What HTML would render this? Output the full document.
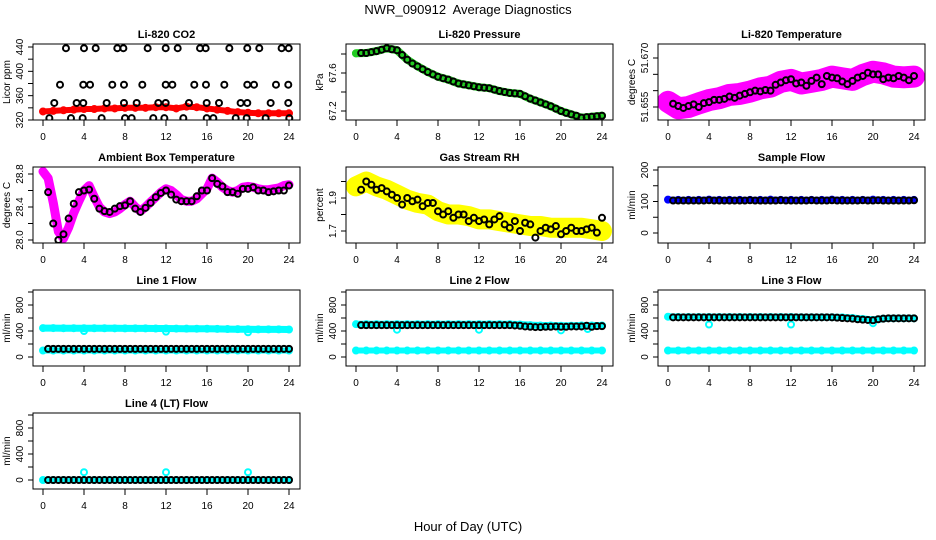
<!DOCTYPE html>
<html><head><meta charset="utf-8">
<style>
html,body{margin:0;padding:0;background:#fff;}
svg{display:block;font-family:"Liberation Sans",Arial,sans-serif;}
</style></head>
<body>
<svg id="chart" width="936" height="540" viewBox="0 0 936 540" xmlns="http://www.w3.org/2000/svg">
<rect width="936" height="540" fill="#fff"/>
<text x="468" y="14" text-anchor="middle" font-size="13">NWR_090912&#160; Average Diagnostics</text>
<text x="468" y="531" text-anchor="middle" font-size="13">Hour of Day (UTC)</text>
</svg>
<script>
// ---- shared time arrays ----
const hourT = [0,1,2,3,4,5,6,7,8,9,10,11,12,13,14,15,16,17,18,19,20,21,22,23,24];
const halfT = [0.5,1,1.5,2,2.5,3,3.5,4,4.5,5,5.5,6,6.5,7,7.5,8,8.5,9,9.5,10,10.5,11,11.5,12,12.5,13,13.5,14,14.5,15,15.5,16,16.5,17,17.5,18,18.5,19,19.5,20,20.5,21,21.5,22,22.5,23,23.5,24];
const halfT0 = [0,0.5,1,1.5,2,2.5,3,3.5,4,4.5,5,5.5,6,6.5,7,7.5,8,8.5,9,9.5,10,10.5,11,11.5,12,12.5,13,13.5,14,14.5,15,15.5,16,16.5,17,17.5,18,18.5,19,19.5,20,20.5,21,21.5,22,22.5,23,23.5,24];
const xTicks = [0,4,8,12,16,20,24];

// ---- CO2 ----
const co2Color = [334,335,336,337,338,338,339,339,340,340,340,341,341,339,342,341,339,337,335,333,332,331,331,331,331];
const co2BlackT = [2.24,4.0,5.14,7.25,7.84,10.21,11.97,13.14,15.32,15.87,18.18,19.93,21.1,23.28,23.97,
 1.66,3.93,4.59,6.76,7.9,9.69,11.97,12.62,14.76,15.9,17.69,19.93,20.59,22.73,23.93,
 1.1,3.28,3.93,6.21,7.9,9.14,11.25,11.97,14.24,15.97,17.17,19.28,19.93,22.21,23.93,
 0.62,2.73,3.87,5.72,8.0,8.65,10.76,11.84,13.69,15.97,16.62,18.8,19.87,21.72,24.03];
const co2BlackV = [438,438,438,438,438,438,438,438,438,438,438,438,438,438,438,
 378,378,378,378,378,378,378,378,378,378,378,378,378,378,378,
 348,348,348,348,348,348,348,348,348,348,348,348,348,348,348,
 323,323,323,323,323,323,323,323,323,323,323,323,323,323,323];

// ---- Pressure ----
const presColor = [67.807,67.81,67.83,67.86,67.84,67.74,67.67,67.61,67.56,67.53,67.49,67.47,67.45,67.44,67.41,67.39,67.38,67.33,67.29,67.25,67.20,67.165,67.13,67.14,67.15];
const presBlack = [67.81,67.81,67.82,67.83,67.845,67.86,67.85,67.84,67.79,67.74,67.70,67.67,67.64,67.61,67.585,67.56,67.545,67.53,67.51,67.49,67.48,67.47,67.46,67.45,67.445,67.44,67.425,67.41,67.40,67.39,67.385,67.38,67.355,67.33,67.31,67.29,67.27,67.25,67.225,67.20,67.18,67.165,67.15,67.13,67.135,67.14,67.145,67.15];

// ---- Li-820 Temperature ----
const tempColor = [51.6566,51.6546,51.655,51.6561,51.6571,51.6577,51.6587,51.659,51.6597,51.6607,51.6612,51.6627,51.6633,51.6622,51.6627,51.6633,51.6643,51.6638,51.6633,51.6648,51.6658,51.6653,51.6643,51.6641,51.6643];
const tempBlack = [51.6560,51.6553,51.6547,51.6553,51.6558,51.6550,51.6562,51.6565,51.6572,51.6572,51.6575,51.6582,51.6578,51.6585,51.6590,51.6595,51.6600,51.6598,51.6602,51.6600,51.6618,51.6625,51.6632,51.6635,51.6622,51.6625,51.6615,51.6630,51.6640,51.6620,51.6645,51.6640,51.6638,51.6628,51.6620,51.6630,51.6640,51.6645,51.6655,51.6650,51.6650,51.6635,51.6640,51.6638,51.6645,51.6640,51.6632,51.6645];

// ---- Ambient Box Temperature ----
const ambColor = [28.83,28.75,28.45,28.10,28.02,28.15,28.33,28.47,28.60,28.66,28.52,28.40,28.34,28.32,28.34,28.38,28.43,28.47,28.40,28.35,28.40,28.46,28.52,28.58,28.62,28.60,28.55,28.49,28.47,28.47,28.50,28.56,28.62,28.75,28.70,28.64,28.60,28.58,28.60,28.64,28.65,28.64,28.62,28.61,28.61,28.62,28.63,28.66,28.67];
const ambBlack = [28.58,28.20,28.0,28.07,28.26,28.44,28.58,28.60,28.61,28.50,28.38,28.35,28.34,28.38,28.41,28.42,28.47,28.38,28.34,28.39,28.45,28.52,28.57,28.60,28.55,28.49,28.47,28.47,28.47,28.53,28.60,28.60,28.75,28.68,28.65,28.58,28.58,28.56,28.62,28.62,28.64,28.60,28.60,28.58,28.59,28.60,28.60,28.66];

// ---- Gas Stream RH ----
const rhColor = [1.97,2.0,1.97,1.95,1.92,1.89,1.87,1.86,1.82,1.80,1.80,1.79,1.77,1.77,1.76,1.75,1.74,1.73,1.73,1.72,1.72,1.72,1.72,1.71,1.70];
const rhBlack = [1.95,2.00,1.98,1.95,1.96,1.94,1.92,1.90,1.86,1.90,1.88,1.89,1.85,1.87,1.87,1.82,1.80,1.82,1.78,1.80,1.80,1.76,1.78,1.76,1.77,1.74,1.77,1.79,1.74,1.72,1.76,1.70,1.75,1.74,1.66,1.70,1.72,1.71,1.73,1.68,1.70,1.72,1.70,1.70,1.71,1.72,1.69,1.78];

// ---- Sample Flow ----
const sampleColor = [106,105,105,105,106,105,105,105,105,105,106,105,105,105,105,105,106,105,105,105,106,105,105,105,105];
const sampleBlack = [103,103,103,103,103,103,103,104,103,103,103,103,103,103,103,104,103,103,103,103,103,104,103,103,103,103,103,104,103,103,103,104,103,103,103,103,103,104,103,103,104,103,103,103,103,103,103,104];

// ---- Line flows ----
const line1High = [445,445,443,443,442,442,442,441,440,440,440,438,438,437,436,435,434,432,430,428,426,425,425,425,423];
const line1Low = [100,100,100,100,100,100,100,100,100,100,100,100,100,100,100,100,100,100,100,100,100,100,100,100,100];
const line1OutT = [4,12,20];
const line1OutV = [400,390,380];
const line1Black = [125,125,125,125,125,125,125,125,125,125,125,125,125,125,125,125,125,125,125,125,125,125,125,125,125,125,125,125,125,125,125,125,125,125,125,125,125,125,125,125,125,125,125,125,125,125,125,125];

const line2High = [505,505,505,505,505,505,505,505,505,505,505,505,505,505,505,505,500,490,485,485,480,480,485,485,485];
const line2Low = [100,100,100,100,100,100,100,100,100,100,100,100,100,100,100,100,100,100,100,100,100,100,100,100,100];
const line2OutT = [4,12,20,22.6];
const line2OutV = [420,420,410,430];
const line2Black = [490,490,490,490,490,490,490,490,490,490,490,490,490,490,490,490,490,490,490,490,490,490,490,490,490,490,490,490,490,490,485,480,470,465,460,460,465,465,470,465,465,470,470,470,480,465,475,475];

const line3High = [620,615,615,615,615,615,615,615,615,615,615,615,615,612,612,612,612,610,600,585,570,590,595,595,595];
const line3Low = [100,100,100,100,100,100,100,100,100,100,100,100,100,100,100,100,100,100,100,100,100,100,100,100,100];
const line3OutT = [4,12,20];
const line3OutV = [500,500,520];
const line3Black = [610,610,610,610,610,610,610,610,610,610,610,610,610,610,610,610,610,610,610,610,610,610,610,610,610,610,610,610,610,610,610,610,605,600,595,590,580,575,570,565,580,590,595,595,595,595,595,595];

const line4Color = [0,0,0,0,0,0,0,0,0,0,0,0,0,0,0,0,0,0,0,0,0,0,0,0,0];
const line4OutT = [4,12,20];
const line4OutV = [120,120,120];
const line4Black = [0,0,0,0,0,0,0,0,0,0,0,0,0,0,0,0,0,0,0,0,0,0,0,0,0,0,0,0,0,0,0,0,0,0,0,0,0,0,0,0,0,0,0,0,0,0,0,0];

// ---- layout ----
const NS = "http://www.w3.org/2000/svg";
const svg = document.getElementById('chart');
const colLeft = [33, 346, 658];
const rowTop = [44, 167, 290, 413];
const boxW = 267, boxH = 76;

function mk(tag, attrs, parent) {
  const e = document.createElementNS(NS, tag);
  for (const k in attrs) e.setAttribute(k, attrs[k]);
  (parent || svg).appendChild(e);
  return e;
}

const flowTicks = [0,200,400,600,800,1000];
const flowLabels = [0,400,800];

const panels = [
 {name:'co2', col:0,row:0,title:'Li-820 CO2',ylab:'Licor ppm',cal:[320,76,440,3],ticks:[320,340,360,380,400,420,440],labels:[320,360,400,440],
  series:[{t:hourT,v:co2Color,c:'#ff0000',w:6,r:3}],out:null,black:{t:co2BlackT,v:co2BlackV}},
 {name:'pressure', col:1,row:0,title:'Li-820 Pressure',ylab:'kPa',cal:[67.2,67,67.6,29],ticks:[67.2,67.4,67.6,67.8],labels:[67.2,67.6],
  series:[{t:hourT,v:presColor,c:'#22cc22',w:8,r:3}],out:null,black:{t:halfT,v:presBlack}},
 {name:'temperature', col:2,row:0,title:'Li-820 Temperature',ylab:'degrees C',cal:[51.655,63,51.670,14],ticks:[51.655,51.660,51.665,51.670],labels:['51.655','51.670'],
  series:[{t:hourT,v:tempColor,c:'#ff00ff',w:22,r:3}],out:null,black:{t:halfT,v:tempBlack}},
 {name:'ambient-temp', col:0,row:1,title:'Ambient Box Temperature',ylab:'degrees C',cal:[28.0,73,28.8,7],ticks:[28.0,28.2,28.4,28.6,28.8],labels:['28.0','28.4','28.8'],
  series:[{t:halfT0,v:ambColor,c:'#ff00ff',w:9,r:3}],out:null,black:{t:halfT,v:ambBlack}},
 {name:'rh', col:1,row:1,title:'Gas Stream RH',ylab:'percent',cal:[1.7,64,1.9,31],ticks:[1.7,1.8,1.9,2.0],labels:['1.7','1.9'],
  series:[{t:hourT,v:rhColor,c:'#ffff00',w:20,r:3}],out:null,black:{t:halfT,v:rhBlack}},
 {name:'sample-flow', col:2,row:1,title:'Sample Flow',ylab:'ml/min',cal:[0,66,200,3],ticks:[0,50,100,150,200],labels:[0,100,200],
  series:[{t:hourT,v:sampleColor,c:'#0000ff',w:6,r:3}],out:null,black:{t:halfT,v:sampleBlack}},
 {name:'line1-flow', col:0,row:2,title:'Line 1 Flow',ylab:'ml/min',cal:[0,67,1000,2],ticks:flowTicks,labels:flowLabels,
  series:[{t:hourT,v:line1High,c:'#00ffff',w:7,r:3},{t:hourT,v:line1Low,c:'#00ffff',w:6,r:3}],out:{t:line1OutT,v:line1OutV},black:{t:halfT,v:line1Black}},
 {name:'line2-flow', col:1,row:2,title:'Line 2 Flow',ylab:'ml/min',cal:[0,67,1000,2],ticks:flowTicks,labels:flowLabels,
  series:[{t:hourT,v:line2High,c:'#00ffff',w:7,r:3},{t:hourT,v:line2Low,c:'#00ffff',w:6,r:3}],out:{t:line2OutT,v:line2OutV},black:{t:halfT,v:line2Black}},
 {name:'line3-flow', col:2,row:2,title:'Line 3 Flow',ylab:'ml/min',cal:[0,67,1000,2],ticks:flowTicks,labels:flowLabels,
  series:[{t:hourT,v:line3High,c:'#00ffff',w:7,r:3},{t:hourT,v:line3Low,c:'#00ffff',w:6,r:3}],out:{t:line3OutT,v:line3OutV},black:{t:halfT,v:line3Black}},
 {name:'line4-flow', col:0,row:3,title:'Line 4 (LT) Flow',ylab:'ml/min',cal:[0,67,1000,2],ticks:flowTicks,labels:flowLabels,
  series:[{t:hourT,v:line4Color,c:'#00ffff',w:5,r:3}],out:{t:line4OutT,v:line4OutV},black:{t:halfT,v:line4Black}}
];

panels.forEach(p => {
  const L = colLeft[p.col], T = rowTop[p.row], B = T + boxH, R = L + boxW;
  const xs = h => L + 10 + h * (246 / 24);
  const [v0, o0, v1, o1] = p.cal;
  const ys = v => T + o0 + (v - v0) * (o1 - o0) / (v1 - v0);

  const g = mk('g', {});
  
  

  const title = mk('text', {x: L + boxW / 2, y: T - 6, 'text-anchor': 'middle', 'font-size': 11, 'font-weight': 'bold'}, g);
  title.textContent = p.title;
  
  

  const clipId = 'clip-' + p.name;
  const cp = mk('clipPath', {id: clipId}, g);
  mk('rect', {x: L, y: T, width: boxW, height: boxH}, cp);
  const plot = mk('g', {'clip-path': 'url(#' + clipId + ')'}, g);
  
  

  p.series.forEach((s, si) => {
    const pts = s.t.map((t, i) => xs(t).toFixed(1) + ',' + ys(s.v[i]).toFixed(1)).join(' ');
    const pl = mk('polyline', {points: pts, fill: 'none', stroke: s.c, 'stroke-width': s.w, 'stroke-linecap': 'round', 'stroke-linejoin': 'round'}, plot);
    
    
    s.t.forEach((t, i) => {
      const c = mk('circle', {cx: xs(t), cy: ys(s.v[i]), r: s.r, fill: 'none', stroke: s.c, 'stroke-width': 2}, plot);
      
      
    });
  });
  if (p.out) {
    p.out.t.forEach((t, i) => {
      const c = mk('circle', {cx: xs(t), cy: ys(p.out.v[i]), r: 3, fill: 'none', stroke: '#00ffff', 'stroke-width': 2}, plot);
      
      
    });
  }
  p.black.t.forEach((t, i) => {
    const c = mk('circle', {cx: xs(t), cy: ys(p.black.v[i]), r: 3, fill: 'none', stroke: '#000', 'stroke-width': 2}, plot);
    
    
  });

  const box = mk('rect', {x: L, y: T, width: boxW, height: boxH, fill: 'none', stroke: '#000', 'stroke-width': 1}, g);
  
  

  const xa = mk('g', {}, g);
  
  
  mk('line', {x1: xs(0), x2: xs(24), y1: B, y2: B, stroke: '#000'}, xa);
  xTicks.forEach(h => {
    mk('line', {x1: xs(h), x2: xs(h), y1: B, y2: B + 6, stroke: '#000'}, xa);
    const tl = mk('text', {x: xs(h), y: B + 20, 'text-anchor': 'middle', 'font-size': 10}, xa);
    tl.textContent = h;
    
    
  });

  const ya = mk('g', {}, g);
  
  
  const tk = p.ticks;
  mk('line', {x1: L, x2: L, y1: ys(tk[0]), y2: ys(tk[tk.length - 1]), stroke: '#000'}, ya);
  tk.forEach(v => mk('line', {x1: L - 5, x2: L, y1: ys(v), y2: ys(v), stroke: '#000'}, ya));
  p.labels.forEach(v => {
    const y = ys(parseFloat(v));
    const tl = mk('text', {x: L - 10, y: y, 'text-anchor': 'middle', 'font-size': 10, transform: 'rotate(-90 ' + (L - 10) + ' ' + y + ')'}, ya);
    tl.textContent = v;
    
    
  });
  const yc = T + boxH / 2, yx = L - 23;
  const yt = mk('text', {x: yx, y: yc, 'text-anchor': 'middle', 'font-size': 10, transform: 'rotate(-90 ' + yx + ' ' + yc + ')'}, g);
  yt.textContent = p.ylab;
  
  
});
</script>
</body></html>
